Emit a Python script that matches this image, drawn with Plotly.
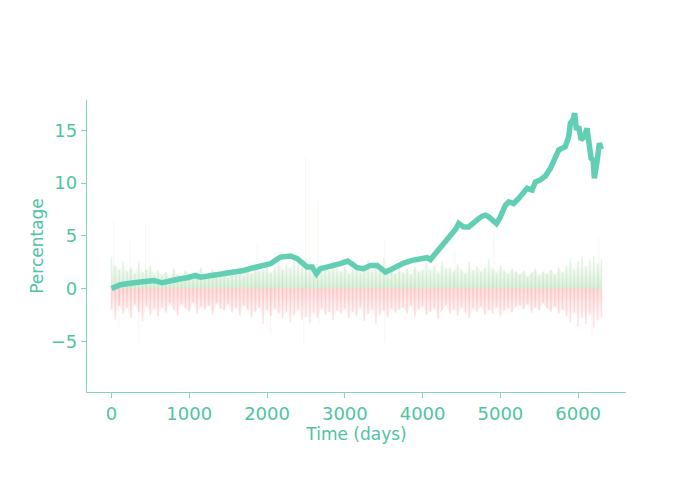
import plotly.graph_objects as go

# ---- cumulative return line (day, percentage) ----
line_days = [0, 116, 287, 415, 544, 652, 758, 887, 973, 1080, 1144, 1272, 1401, 1487, 1572,
             1700, 1829, 1958, 2044, 2172, 2301, 2387, 2451, 2515, 2580, 2635, 2686, 2773,
             2857, 2943, 3037, 3094, 3158, 3243, 3329, 3415, 3522, 3586, 3672, 3757, 3865,
             3972, 4058, 4100, 4165, 4229, 4293, 4357, 4422, 4464, 4528, 4593, 4657, 4721,
             4765, 4807, 4850, 4893, 4949, 5000, 5064, 5107, 5171, 5235, 5300, 5343, 5407,
             5450, 5514, 5578, 5643, 5707, 5750, 5793, 5835, 5878, 5900, 5934, 5955, 5977,
             6006, 6037, 6080, 6114, 6135, 6166, 6192, 6208, 6243, 6272, 6298]
line_vals = [0.0, 0.35, 0.55, 0.6, 0.76, 0.54, 0.76, 0.92, 1.02, 1.24, 1.08, 1.24, 1.27, 1.5, 1.56,
             1.71, 1.97, 2.19, 2.35, 2.98, 3.08, 2.83, 2.35, 2.03, 2.03, 1.4, 1.88, 2.03,
             2.1, 2.35, 2.6, 2.35, 1.97, 1.88, 2.19, 2.19, 1.56, 1.78, 2.1, 2.41, 2.67,
             2.83, 2.92, 2.74, 3.3, 3.87, 4.41, 4.95, 5.59, 6.16, 5.84, 5.84, 6.31, 6.63,
             6.86, 6.95, 6.79, 6.48, 6.16, 6.79, 7.9, 8.22, 8.06, 8.54, 9.02, 9.5, 9.33,
             10.1, 10.3, 10.67, 11.4, 12.35, 13.14, 13.3, 13.46, 14.4, 15.68, 16.0, 16.63, 15.05,
             15.36, 14.1, 14.4, 15.2, 14.1, 12.35, 12.19, 10.45, 12.03, 13.78, 13.2]

# ---- daily returns (typical extent per 50-day block) ----
bar_days = list(range(0, 6301, 50))
bar_up = [3.0, 2.2, 1.8, 2.5, 1.6, 2.0, 1.4, 2.6, 1.5, 1.8, 2.2, 1.3, 1.7,
          1.2, 1.6, 1.0, 1.9, 1.3, 1.1, 1.7, 1.4, 1.0, 1.5, 2.0, 1.2, 1.3, 1.8, 1.1, 1.4,
          1.6, 1.0, 1.9, 1.3, 1.5, 1.2, 2.1, 1.4,
          2.4, 1.6, 1.8, 2.2, 1.5, 2.0, 2.6, 1.7, 2.3, 1.9, 3.2, 2.5, 2.0, 2.8, 3.0, 2.2,
          1.8, 2.4, 2.0, 1.7, 2.6, 1.9,
          1.6, 2.1, 1.4, 1.8, 2.3, 1.5, 1.9, 2.7, 1.6, 2.2, 1.8, 2.9, 2.0, 1.7, 1.4, 2.0,
          1.5, 1.9, 1.3, 2.1, 1.6, 1.8, 2.4, 1.7, 2.2, 1.5, 2.6, 1.9, 2.0, 1.6, 2.3, 1.8,
          1.4, 2.5, 1.7, 2.1, 1.6, 2.0, 2.8, 1.9, 1.5, 2.2, 1.7, 1.4, 1.9, 1.6,
          1.3, 1.7, 1.1, 1.5, 1.9, 1.2, 1.6, 1.4, 1.8, 1.3, 2.0, 1.5,
          2.2, 2.9, 1.8, 2.6, 3.0, 2.1, 2.7, 3.1, 2.4, 2.8]
bar_dn = [-2.0, -3.0, -1.6, -2.4, -1.8, -2.8, -1.5, -2.2, -3.1, -1.7, -2.5, -1.9, -2.6,
          -1.8, -2.3, -1.4, -2.0, -2.6, -1.5, -1.9, -2.2, -1.3, -2.4, -1.7, -2.0, -1.6, -2.5,
          -1.4, -1.9, -2.1, -1.5, -2.3, -1.8, -2.6, -1.6, -2.0, -2.7,
          -2.2, -1.8, -3.4, -2.1, -2.6, -1.9, -2.4, -2.9, -2.2, -3.2, -2.5, -2.0, -3.0, -2.7,
          -3.3, -2.3, -2.8, -1.9, -2.5, -2.2, -3.0, -2.1,
          -2.4, -1.9, -2.8, -2.2, -2.6, -1.8, -3.1, -2.4, -2.0, -3.3, -2.5, -2.1, -2.7, -1.9,
          -2.3, -2.0,
          -1.8, -2.4, -1.6, -2.7, -2.0, -1.7, -2.5, -2.2, -1.9, -2.9, -2.1, -1.6, -2.4, -2.0,
          -2.6, -1.8, -2.3, -2.8, -1.9, -2.2, -1.7, -2.5, -2.0, -2.4, -1.8, -2.6, -2.1, -1.9,
          -2.3, -1.7,
          -1.6, -2.0, -1.5, -2.3, -1.8, -2.1, -1.4, -1.9, -2.2, -1.7, -2.4, -2.0,
          -2.6, -3.2, -2.3, -3.6, -2.8, -3.4, -2.5, -3.7, -3.0, -2.7]

# ---- isolated large daily moves ----
spike_up_days = [30, 240, 437, 1872, 2193, 2494, 2648, 3514, 4414, 4913, 6264]
spike_up_vals = [6.4, 4.5, 6.0, 4.2, 3.6, 12.5, 8.3, 4.5, 3.6, 5.2, 4.9]
spike_dn_days = [94, 351, 2044, 2473, 2666, 3514, 6093, 6178]
spike_dn_vals = [-3.7, -5.3, -4.3, -5.3, -3.4, -5.1, -3.4, -4.7]

TEAL = "#62CFB4"
AXIS = "#7fd6bf"
TEXT = "#4fc4a2"
GREEN = "rgba(44,160,44,0.11)"
RED = "rgba(240,60,60,0.14)"
GREEN_F = "rgba(44,160,44,0.07)"
RED_F = "rgba(240,60,60,0.07)"

fig = go.Figure()
# soft haze near zero (denser small moves)
fig.add_trace(go.Scatter(x=bar_days, y=bar_up, mode="lines", line=dict(width=0),
                         fill="tozeroy", hoverinfo="skip", showlegend=False,
                         fillgradient=dict(type="vertical", start=0, stop=2.6,
                                           colorscale=[[0, "rgba(44,160,44,0.17)"],
                                                       [1, "rgba(44,160,44,0.0)"]])))
fig.add_trace(go.Scatter(x=bar_days, y=bar_dn, mode="lines", line=dict(width=0),
                         fill="tozeroy", hoverinfo="skip", showlegend=False,
                         fillgradient=dict(type="vertical", start=0, stop=-3.0,
                                           colorscale=[[0, "rgba(240,60,60,0.18)"],
                                                       [1, "rgba(240,60,60,0.0)"]])))
fig.add_trace(go.Bar(x=spike_up_days, y=spike_up_vals, width=12, marker_color=GREEN_F,
                     marker_line_width=0, showlegend=False))
fig.add_trace(go.Bar(x=spike_dn_days, y=spike_dn_vals, width=12, marker_color=RED_F,
                     marker_line_width=0, showlegend=False))
fig.add_trace(go.Bar(x=bar_days, y=bar_up, width=20, marker_color=GREEN,
                     marker_line_width=0, showlegend=False))
fig.add_trace(go.Bar(x=bar_days, y=bar_dn, width=20, marker_color=RED,
                     marker_line_width=0, showlegend=False))
fig.add_trace(go.Scatter(x=line_days, y=line_vals, mode="lines",
                         line=dict(color=TEAL, width=5.5), showlegend=False))

axis_common = dict(showline=True, linecolor=AXIS, linewidth=1.3, ticks="outside",
                   ticklen=5, tickcolor=AXIS, tickwidth=1.3, showgrid=False, zeroline=False,
                   tickfont=dict(family="DejaVu Sans", size=18, color=TEXT), automargin=False)
fig.update_layout(
    template="none",
    width=695, height=494,
    margin=dict(l=79, r=77, t=92, b=110),
    paper_bgcolor="white", plot_bgcolor="white",
    font=dict(family="DejaVu Sans", color=TEXT),
    barmode="overlay",
    xaxis=dict(range=[-315, 6615], tickvals=[0, 1000, 2000, 3000, 4000, 5000, 6000],
               title=dict(text="Time (days)", standoff=2,
                          font=dict(family="DejaVu Sans", size=17, color=TEXT)), **axis_common),
    yaxis=dict(range=[-9.82, 17.88], tickvals=[-5, 0, 5, 10, 15],
               title=dict(text="Percentage", standoff=2,
                          font=dict(family="DejaVu Sans", size=17, color=TEXT)), **axis_common),
)
fig.write_html("out.html")
